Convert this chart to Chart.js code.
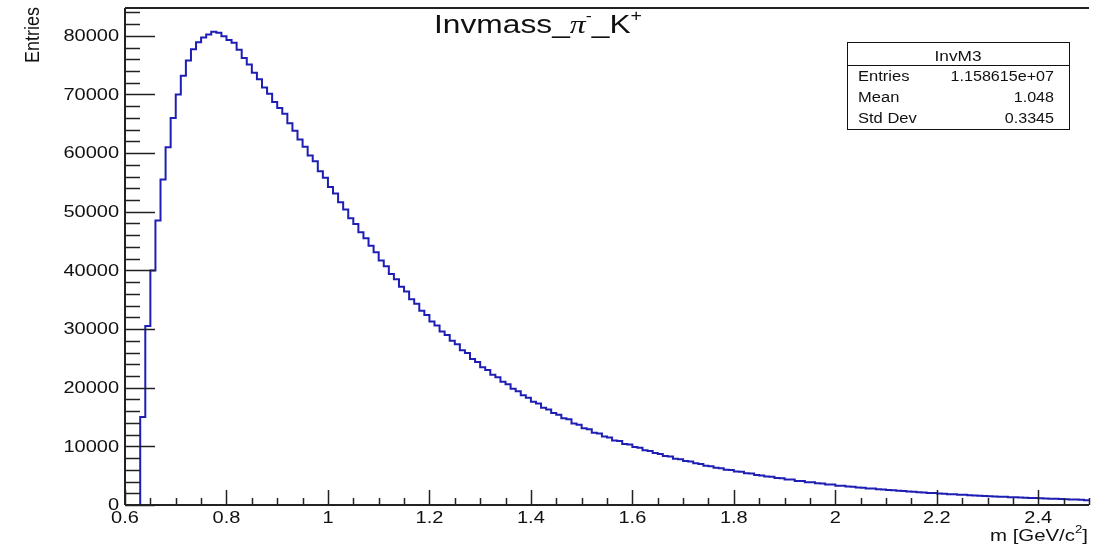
<!DOCTYPE html>
<html>
<head>
<meta charset="utf-8">
<script src="https://cdn.jsdelivr.net/npm/chart.js@4.4.0/dist/chart.umd.min.js"></script>
<style>
html, body { margin: 0; padding: 0; background: #fff; }
#hist { display: block; }
</style>
</head>
<body>
<canvas id="hist" width="1107" height="550"></canvas>
<script>
// histogram binning (low edge of first bin, bin width) and bin contents
const binStart = 0.6;
const binWidth = 0.01;
const counts = [
    0, 0, 0, 15000, 30500, 40000, 48500, 55500, 61000, 66000,
    70000, 73200, 75800, 77700, 78900, 79700, 80200, 80700, 80500, 79900,
    79300, 78800, 77600, 76200, 75100, 73700, 72600, 71200, 70100, 68700,
    67700, 66700, 65100, 63800, 62300, 61100, 59600, 58600, 56900, 55800,
    54200, 53100, 51600, 50400, 48900, 47900, 46500, 45500, 44200, 43100,
    41700, 40700, 39400, 38500, 37200, 36400, 35100, 34300, 33100, 32400,
    31300, 30600, 29600, 29000, 28000, 27400, 26400, 25900, 24900, 24400,
    23500, 23000, 22200, 21800, 21000, 20600, 19800, 19400, 18700, 18300,
    17600, 17300, 16600, 16300, 15700, 15400, 14800, 14600, 13900, 13700,
    13100, 12900, 12300, 12200, 11700, 11500, 11000, 10900, 10400, 10300,
    9900, 9750, 9350, 9200, 8850, 8700, 8350, 8250, 7900, 7800,
    7500, 7400, 7100, 7000, 6700, 6600, 6350, 6250, 6000, 5950,
    5700, 5650, 5400, 5350, 5100, 5050, 4850, 4800, 4600, 4550,
    4350, 4330, 4100, 4080, 3900, 3880, 3700, 3680, 3500, 3480,
    3300, 3280, 3150, 3120, 2980, 2950, 2820, 2800, 2680, 2650,
    2540, 2520, 2420, 2380, 2300, 2250, 2180, 2150, 2050, 2030,
    1950, 1930, 1850, 1830, 1750, 1730, 1660, 1640, 1570, 1550,
    1480, 1470, 1400, 1390, 1330, 1320, 1260, 1250, 1200, 1180,
    1130, 1120, 1070, 1060, 1010, 1000, 950, 940, 880, 830
];

// axis ranges and tick labels
const xRange = [0.6, 2.5];
const yRange = [0, 84735];
const xTickValues = [0.6, 0.8, 1.0, 1.2, 1.4, 1.6, 1.8, 2.0, 2.2, 2.4];
const xTickLabels = ['0.6', '0.8', '1', '1.2', '1.4', '1.6', '1.8', '2', '2.2', '2.4'];
const yTickValues = [0, 10000, 20000, 30000, 40000, 50000, 60000, 70000, 80000];
const yTickLabels = ['0', '10000', '20000', '30000', '40000', '50000', '60000', '70000', '80000'];
const xMinorStep = 0.05;
const yMinorStep = 2000;

// stats box
const statsName = 'InvM3';
const statsRows = [['Entries', '1.158615e+07'], ['Mean', '1.048'], ['Std Dev', '0.3345']];

// step points: low edge of every bin + closing high edge
const points = counts.map((c, i) => ({ x: binStart + i * binWidth, y: c }));
points.push({ x: binStart + counts.length * binWidth, y: counts[counts.length - 1] });

const FONT = '"Liberation Sans", Arial, sans-serif';
const AXIS = '#222';

function wideText(ctx, str, x, y, sx, align) {
    ctx.save();
    ctx.translate(x, y);
    ctx.scale(sx, 1);
    ctx.textAlign = align || 'left';
    ctx.fillText(str, 0, 0);
    ctx.restore();
}

// draws pieces (text, font, dy) one after another, returns nothing
function pieces(ctx, parts, x, y, sx, align) {
    let w = 0;
    parts.forEach(p => { ctx.font = p[1]; w += ctx.measureText(p[0]).width * sx; });
    let cx = align === 'right' ? x - w : (align === 'center' ? x - w / 2 : x);
    parts.forEach(p => {
        ctx.font = p[1];
        wideText(ctx, p[0], cx, y + p[2], sx, 'left');
        cx += ctx.measureText(p[0]).width * sx;
    });
}

// ROOT-like frame: inward ticks, labels, title, stats box
const rootFrame = {
    id: 'rootFrame',
    afterDatasetsDraw(chart) {
        const ctx = chart.ctx;
        const a = chart.chartArea;
        const xs = chart.scales.x;
        const ys = chart.scales.y;
        ctx.save();
        ctx.strokeStyle = AXIS;
        ctx.fillStyle = '#111';

        // axis lines
        ctx.lineWidth = 2;
        ctx.beginPath();
        ctx.moveTo(a.left, a.top); ctx.lineTo(a.right, a.top);
        ctx.moveTo(a.left, a.top); ctx.lineTo(a.left, a.bottom);
        ctx.moveTo(a.left, a.bottom); ctx.lineTo(a.right, a.bottom);
        ctx.stroke();

        // y ticks
        ctx.lineWidth = 1.5;
        ctx.beginPath();
        for (let i = 0; i * yMinorStep <= yRange[1]; i++) {
            const v = i * yMinorStep;
            const py = Math.round(ys.getPixelForValue(v)) + 0.5;
            const len = (v % 10000 === 0) ? 30 : 15;
            ctx.moveTo(a.left, py); ctx.lineTo(a.left + len, py);
        }
        // x ticks
        for (let i = 0; xRange[0] + i * xMinorStep <= xRange[1] + 1e-9; i++) {
            const px = Math.round(xs.getPixelForValue(xRange[0] + i * xMinorStep)) + 0.5;
            const len = (i % 4 === 0) ? 15 : 7;
            ctx.moveTo(px, a.bottom); ctx.lineTo(px, a.bottom - len);
        }
        ctx.stroke();

        // tick labels
        ctx.font = '16px ' + FONT;
        ctx.textBaseline = 'middle';
        yTickValues.forEach((v, i) => {
            wideText(ctx, yTickLabels[i], a.left - 6, ys.getPixelForValue(v) + 1, 1.25, 'right');
        });
        ctx.textBaseline = 'alphabetic';
        xTickValues.forEach((v, i) => {
            wideText(ctx, xTickLabels[i], xs.getPixelForValue(v), a.bottom + 18, 1.25, 'center');
        });

        // axis titles
        ctx.font = '18px ' + FONT;
        ctx.save();
        ctx.translate(39, 7);
        ctx.rotate(-Math.PI / 2);
        ctx.scale(1, 1.15);
        ctx.textAlign = 'right';
        ctx.fillText('Entries', 0, 0);
        ctx.restore();

        pieces(ctx, [
            ['m [GeV/c', '17px ' + FONT, 0],
            ['2', '11px ' + FONT, -8],
            [']', '17px ' + FONT, 0]
        ], 1088, 541, 1.2, 'right');

        // title
        pieces(ctx, [
            ['Invmass_', '26px ' + FONT, 0],
            ['\u03C0', 'italic 26px "Liberation Serif", serif', 0],
            ['-', '15px ' + FONT, -12],
            ['_K', '26px ' + FONT, 0],
            ['+', '16px ' + FONT, -12]
        ], 538, 33, 1.22, 'center');

        // stats box
        ctx.fillStyle = '#fff';
        ctx.fillRect(847, 42, 222, 87);
        ctx.lineWidth = 1;
        ctx.strokeStyle = '#111';
        ctx.strokeRect(847.5, 42.5, 222, 87);
        ctx.beginPath();
        ctx.moveTo(847.5, 65.5); ctx.lineTo(1069.5, 65.5);
        ctx.stroke();
        ctx.fillStyle = '#111';
        ctx.font = '15px ' + FONT;
        wideText(ctx, statsName, 958, 61, 1.15, 'center');
        ctx.font = '14px ' + FONT;
        statsRows.forEach((r, i) => {
            const by = 81 + i * 21;
            wideText(ctx, r[0], 858, by, 1.18, 'left');
            wideText(ctx, r[1], 1054, by, 1.15, 'right');
        });

        ctx.restore();
    }
};

const hist = new Chart(document.getElementById('hist').getContext('2d'), {
    type: 'line',
    data: {
        datasets: [{
            label: statsName,
            data: points,
            stepped: 'before',
            borderColor: '#1e1eb4',
            borderWidth: 2,
            pointRadius: 0,
            fill: false
        }]
    },
    options: {
        responsive: false,
        devicePixelRatio: 1,
        animation: false,
        layout: { padding: { left: 125, right: 18, top: 8, bottom: 45 } },
        scales: {
            x: { type: 'linear', min: xRange[0], max: xRange[1], display: false },
            y: { type: 'linear', min: yRange[0], max: yRange[1], display: false }
        },
        plugins: {
            legend: { display: false },
            tooltip: { enabled: false },
            title: { display: false }
        }
    },
    plugins: [rootFrame]
});
</script>
</body>
</html>
